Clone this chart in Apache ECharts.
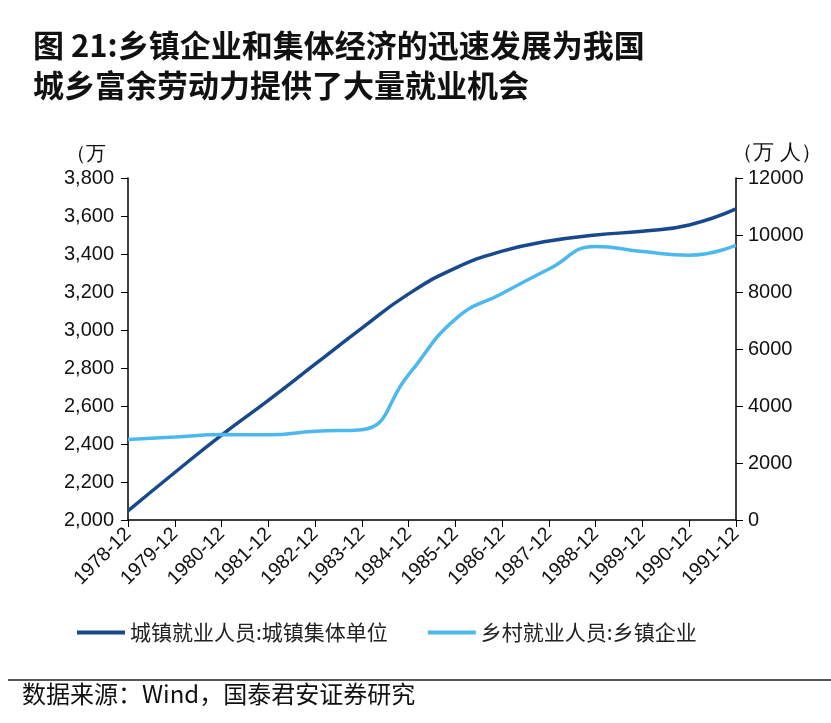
<!DOCTYPE html>
<html><head><meta charset="utf-8">
<script src="https://cdn.jsdelivr.net/npm/echarts@6/dist/echarts.min.js"></script>
<style>html,body{margin:0;padding:0;background:#fff}#c{width:831px;height:723px}</style>
</head><body><div id="c"></div>
<script>
const categories = ['1978-12','1979-12','1980-12','1981-12','1982-12','1983-12','1984-12','1985-12','1986-12','1987-12','1988-12','1989-12','1990-12','1991-12'];
const urbanCollective = [2048, 2250, 2447, 2630, 2820, 3010, 3190, 3326, 3415, 3468, 3500, 3520, 3553, 3637];
const townshipEnterprise = [2827, 2909, 3000, 2990, 3113, 3170, 5100, 7050, 7950, 8805, 9600, 9420, 9290, 9640];
const leftTicks = [2000, 3800, 200];
const rightTicks = [0, 12000, 2000];
const seriesNames = ['城镇就业人员:城镇集体单位', '乡村就业人员:乡镇企业'];

const chart = echarts.init(document.getElementById('c'));
const axisLabelFont = {color:'#111', fontSize:20, fontFamily:'Liberation Sans, Arial, sans-serif'};
chart.setOption({
  backgroundColor:'#fff',
  title:{
    text:'图 21:乡镇企业和集体经济的迅速发展为我国\n城乡富余劳动力提供了大量就业机会',
    left:28, top:20,
    textStyle:{fontSize:31, fontWeight:'bold', color:'#111', lineHeight:40, fontFamily:'Noto Sans CJK SC'}
  },
  legend:{
    top:617, left:72, itemGap:40, itemWidth:48, itemHeight:4,
    icon:'rect',
    textStyle:{fontSize:21, color:'#222', fontFamily:'Noto Sans CJK SC'},
    data:seriesNames
  },
  grid:{left:128, right:95, top:178, bottom:203},
  xAxis:{
    type:'category', data:categories, boundaryGap:false,
    axisLine:{lineStyle:{color:'#000', width:1.5}},
    axisTick:{show:true, alignWithLabel:true, length:7, lineStyle:{color:'#000'}},
    axisLabel:{rotate:45, interval:0, fontSize:19.5, color:'#111', margin:11, fontFamily:'Liberation Sans Narrow, Liberation Sans, Arial, sans-serif'}
  },
  yAxis:[
    {type:'value', min:leftTicks[0], max:leftTicks[1], interval:leftTicks[2], position:'left',
     name:'（万', nameLocation:'end', nameGap:14, nameTextStyle:{fontSize:20, color:'#111', align:'right', padding:[0,22,0,0]},
     axisLine:{show:true, lineStyle:{color:'#000', width:1.5}},
     axisTick:{show:true, length:7, lineStyle:{color:'#000'}},
     splitLine:{show:false},
     axisLabel:Object.assign({margin:14, formatter:v=>v.toLocaleString('en-US')}, axisLabelFont)},
    {type:'value', min:rightTicks[0], max:rightTicks[1], interval:rightTicks[2], position:'right',
     name:'（万 人）', nameLocation:'end', nameGap:14, nameTextStyle:{fontSize:21, color:'#111', align:'left', padding:[0,0,0,-4]},
     axisLine:{show:true, lineStyle:{color:'#000', width:1.5}},
     axisTick:{show:true, length:7, lineStyle:{color:'#000'}},
     splitLine:{show:false},
     axisLabel:Object.assign({margin:12, formatter:v=>String(v)}, axisLabelFont)}
  ],
  series:[
    {name:seriesNames[0], type:'line', yAxisIndex:0, data:urbanCollective, smooth:true, showSymbol:false,
     lineStyle:{color:'#17498c', width:3.5}, itemStyle:{color:'#17498c'}},
    {name:seriesNames[1], type:'line', yAxisIndex:1, data:townshipEnterprise, smooth:true, showSymbol:false,
     lineStyle:{color:'#4cb8ee', width:3.5}, itemStyle:{color:'#4cb8ee'}}
  ],
  graphic:[
    {type:'line', shape:{x1:8, y1:680, x2:831, y2:680}, style:{stroke:'#222', lineWidth:1.5}},
    {type:'text', left:22, top:682, style:{text:'数据来源：Wind，国泰君安证券研究', fontSize:24, fill:'#111', fontFamily:'Noto Sans CJK SC'}}
  ]
});
</script></body></html>
